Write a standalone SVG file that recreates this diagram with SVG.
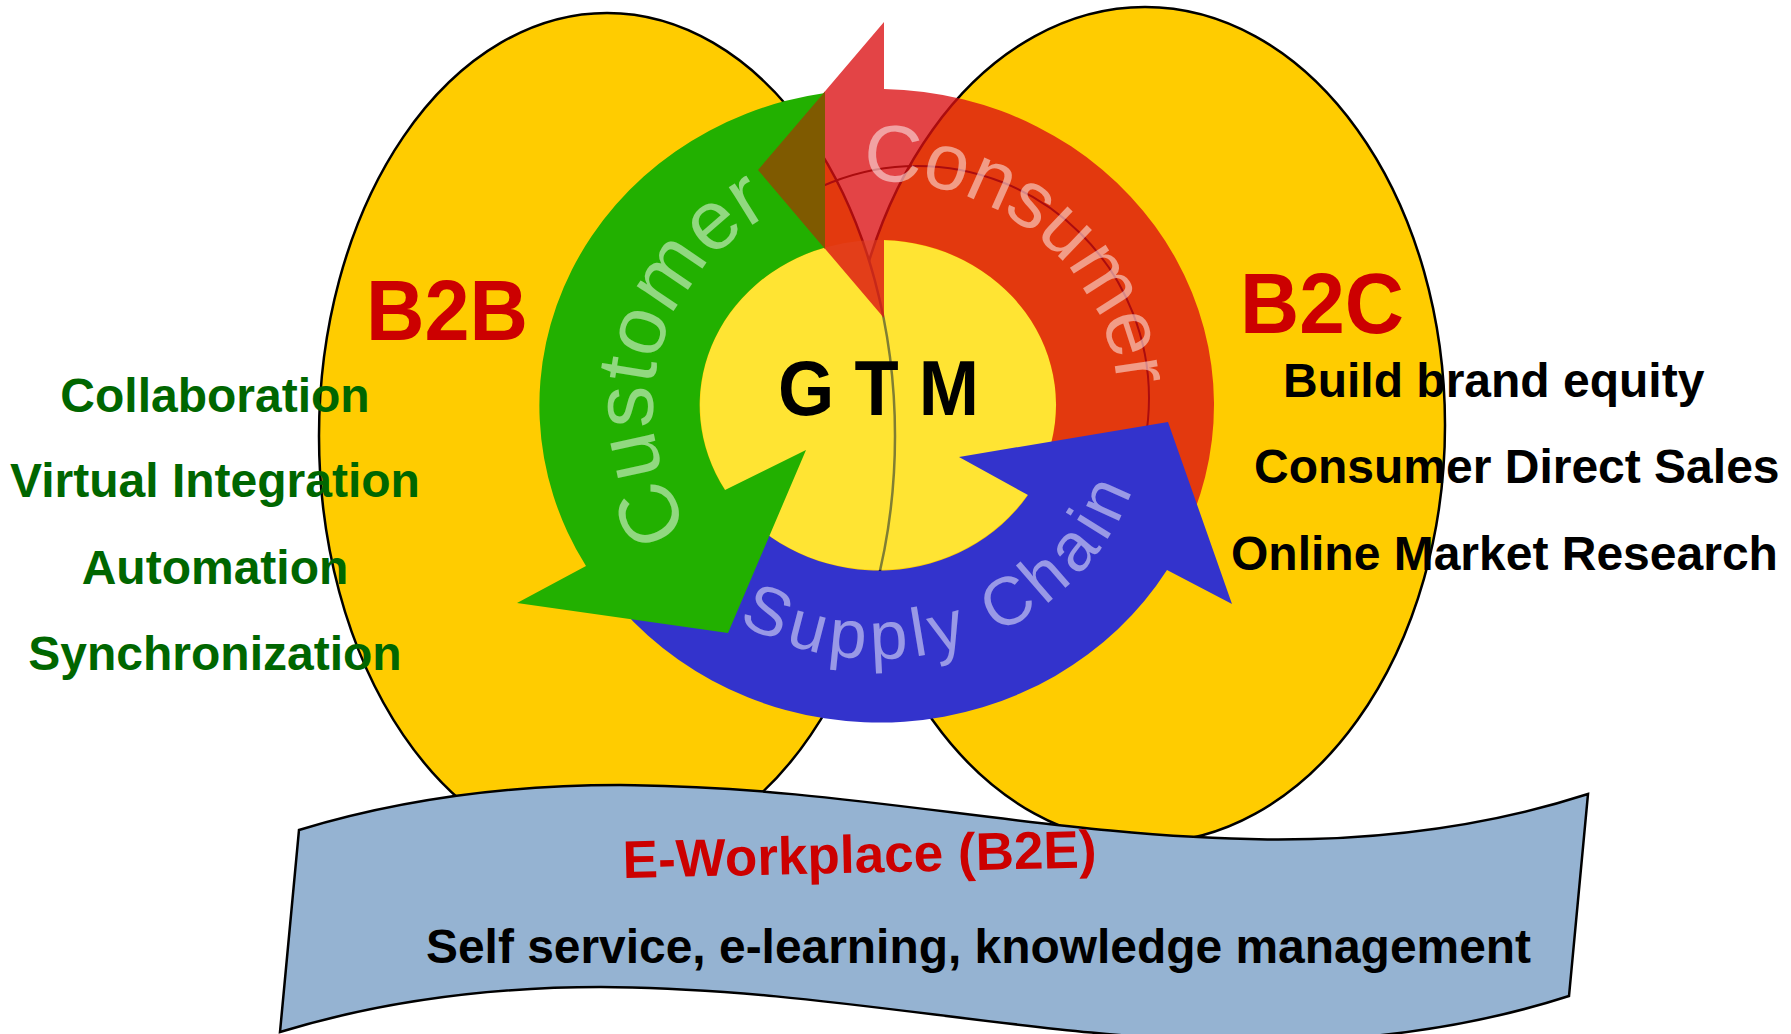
<svg xmlns="http://www.w3.org/2000/svg" width="1791" height="1034" viewBox="0 0 1791 1034">
  <defs>
    <style>
      .market { fill: #FFCC00; stroke: #000; stroke-width: 2.5; }
      .title { font-family: "Liberation Sans", Arial, sans-serif; font-weight: bold; fill: #CC0000; }
      .b2b-item { font-family: "Liberation Sans", Arial, sans-serif; font-weight: bold; font-size: 48px; fill: #006600; text-anchor: middle; }
      .b2c-item { font-family: "Liberation Sans", Arial, sans-serif; font-weight: bold; font-size: 48px; fill: #000; }
      .band-label { font-family: "Liberation Sans", Arial, sans-serif; fill: #FFFFFF; fill-opacity: 0.5; }
    </style>
    <!-- baselines for the labels that follow the ring -->
    <path id="customerArc" d="M 810.5 617 A 240 224 0 0 1 918 183.8"/>
    <path id="consumerArc" d="M 713.7 241.7 A 240 224 0 0 1 1070.2 539.2"/>
    <path id="supplyArc" d="M 634.7 515.2 A 270 254 0 0 0 1137.9 336.3"/>
  </defs>

  <rect width="1791" height="1034" fill="#FFFFFF"/>

  <!-- market ovals -->
  <g id="b2c">
    <ellipse class="market" cx="1145" cy="425" rx="300" ry="418"/>
  </g>
  <g id="b2b">
    <ellipse class="market" cx="607" cy="436" rx="288" ry="423"/>
  </g>

  <!-- GTM cycle -->
  <g id="gtm-core">
    <circle cx="917" cy="398" r="232" fill="none" stroke="#000" stroke-width="2"/>
    <ellipse cx="878" cy="405" rx="178" ry="165" fill="#FFFC66" fill-opacity="0.5"/>
  </g>

  <g id="cycle-arrows">
    <g id="consumer-arrow">
      <path d="M 884 22 L 884 89 A 336 316 0 0 1 1193.7 513.1 L 1045.3 461.4 A 178 165 0 0 0 884 240 L 884 318 L 758 170 Z" fill="#DB0F12" fill-opacity="0.78"/>
    </g>
    <g id="supply-chain-arrow">
      <path d="M 620.6 608.1 A 336 316 0 0 0 1167 570 L 1232 604 L 1168 422 L 959 457 L 1028 495 A 178 165 0 0 1 741.6 511.1 Z" fill="#3333CC"/>
    </g>
    <g id="customer-arrow">
      <path d="M 825 93 A 336 316 0 0 0 586 566 L 517 603 L 728 633 L 806 450 L 725 490 A 178 165 0 0 1 825 247.5 Z" fill="#22B000"/>
      <!-- consumer arrowhead lying over the customer band -->
      <path d="M 825 91.5 L 758 170 L 825 249 Z" fill="#7F5A00"/>
    </g>
  </g>

  <g id="band-labels">
    <text class="band-label" font-size="84" letter-spacing="0.5"><textPath href="#customerArc" startOffset="50%" text-anchor="middle">Customer</textPath></text>
    <text class="band-label" font-size="80" letter-spacing="-1"><textPath href="#consumerArc" startOffset="50%" text-anchor="middle">Consumer</textPath></text>
    <text class="band-label" font-size="68" letter-spacing="6"><textPath href="#supplyArc" startOffset="50%" text-anchor="middle">Supply Chain</textPath></text>
  </g>

  <g id="gtm-label">
    <text x="878.5" y="415" font-family="Liberation Sans, Arial, sans-serif" font-weight="bold" font-size="77" text-anchor="middle" textLength="201" lengthAdjust="spacingAndGlyphs">G T M</text>
  </g>

  <!-- B2E banner -->
  <g id="b2e">
    <path d="M 299 830 C 760 690 1150 935 1588 794 L 1569 996 C 1131 1137 741 892 280 1032 Z" fill="#95B3D2" stroke="#000" stroke-width="2.5" stroke-linejoin="miter"/>
    <text class="title" x="623" y="878" font-size="53" textLength="474" lengthAdjust="spacingAndGlyphs" transform="rotate(-1.3 623 878)">E-Workplace (B2E)</text>
    <text x="426" y="963" font-family="Liberation Sans, Arial, sans-serif" font-weight="bold" font-size="48" textLength="1105" lengthAdjust="spacingAndGlyphs">Self service, e-learning, knowledge management</text>
  </g>

  <g id="b2b-labels">
    <text class="title" x="366" y="340" font-size="86" textLength="162" lengthAdjust="spacingAndGlyphs">B2B</text>
    <text class="b2b-item" x="215" y="412">Collaboration</text>
    <text class="b2b-item" x="215" y="497">Virtual Integration</text>
    <text class="b2b-item" x="215" y="584">Automation</text>
    <text class="b2b-item" x="215" y="670">Synchronization</text>
  </g>

  <g id="b2c-labels">
    <text class="title" x="1240" y="333" font-size="86" textLength="164" lengthAdjust="spacingAndGlyphs">B2C</text>
    <text class="b2c-item" x="1283" y="397">Build brand equity</text>
    <text class="b2c-item" x="1254" y="483">Consumer Direct Sales</text>
    <text class="b2c-item" x="1231" y="570">Online Market Research</text>
  </g>
</svg>
